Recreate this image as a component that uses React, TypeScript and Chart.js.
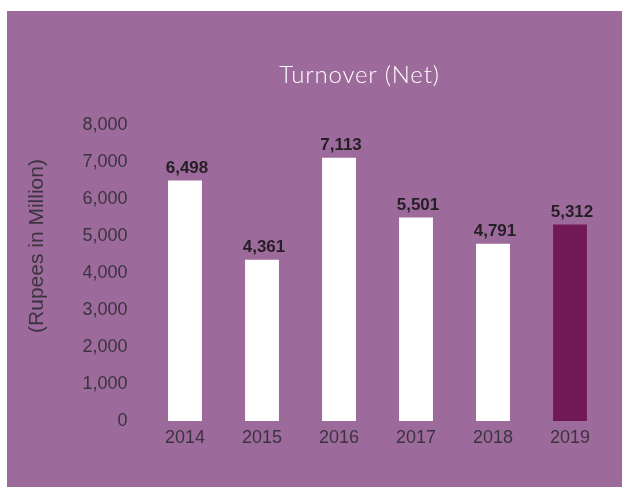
import React, { useEffect, useRef } from "react";
import { Chart, registerables } from "chart.js";

Chart.register(...registerables);

const categories = ["2014", "2015", "2016", "2017", "2018", "2019"];
const turnover = [6498, 4361, 7113, 5501, 4791, 5312];
const barColors = ["#ffffff", "#ffffff", "#ffffff", "#ffffff", "#ffffff", "#711955"];
const chartTitle = "Turnover (Net)";
const yAxisTitle = "(Rupees in Million)";

const BG = "#9d6b9b";
const TEXT = "#3b3340";

const overlayPlugin = {
  id: "overlay",
  afterDatasetsDraw(chart: any) {
    const { ctx, chartArea } = chart;
    const meta = chart.getDatasetMeta(0);
    ctx.save();
    ctx.font = "bold 17px 'Liberation Sans', Arial, sans-serif";
    ctx.fillStyle = "#241f24";
    ctx.textAlign = "center";
    ctx.textBaseline = "bottom";
    meta.data.forEach((bar: any, i: number) => {
      const v = chart.data.datasets[0].data[i] as number;
      ctx.fillText(v.toLocaleString("en-US"), bar.x + 2, bar.y - 4);
    });
    // chart title
    ctx.font = "300 24px Lato, 'Open Sans', sans-serif";
    try {
      (ctx as any).letterSpacing = "0.8px";
    } catch (e) {}
    ctx.fillStyle = "#ffffff";
    ctx.textBaseline = "middle";
    ctx.fillText(chartTitle, (chartArea.left + chartArea.right) / 2 - 18, chartArea.top - 50);
    try {
      (ctx as any).letterSpacing = "0px";
    } catch (e) {}
    // y axis title
    ctx.translate(30, (chartArea.top + chartArea.bottom) / 2 - 27);
    ctx.rotate(-Math.PI / 2);
    ctx.font = "21px 'Liberation Sans', Arial, sans-serif";
    ctx.fillStyle = TEXT;
    ctx.fillText(yAxisTitle, 0, 0);
    ctx.restore();
  },
};

export default function App() {
  const ref = useRef<HTMLCanvasElement | null>(null);
  useEffect(() => {
    if (!ref.current) return;
    const chart = new Chart(ref.current, {
      type: "bar",
      data: {
        labels: categories,
        datasets: [
          {
            data: turnover,
            backgroundColor: barColors,
            borderWidth: 0,
            barPercentage: 0.44,
            categoryPercentage: 1,
          },
        ],
      },
      options: {
        animation: false,
        responsive: false,
        locale: "en-US",
        layout: { padding: { top: 114, right: 13.5, bottom: 36, left: 0 } },
        plugins: { legend: { display: false }, tooltip: { enabled: false }, title: { display: false } },
        scales: {
          x: {
            grid: { display: false, drawTicks: false },
            border: { display: false },
            ticks: {
              color: TEXT,
              padding: 6,
              font: { family: "'Liberation Sans', Arial, sans-serif", size: 18 },
            },
            afterFit: (s: any) => {
              s.height = 30;
            },
          },
          y: {
            min: 0,
            max: 8000,
            grid: { display: false, drawTicks: false },
            border: { display: false },
            ticks: {
              stepSize: 1000,
              color: TEXT,
              padding: 19,
              font: { family: "'Liberation Sans', Arial, sans-serif", size: 18 },
            },
            afterFit: (s: any) => {
              s.width = 139.5;
            },
          },
        },
      },
      plugins: [overlayPlugin],
    });
    return () => chart.destroy();
  }, []);
  return (
    <div style={{ position: "absolute", left: 7, top: 11, width: 615, height: 476, background: BG }}>
      <canvas ref={ref} width={615} height={476} style={{ display: "block" }} />
    </div>
  );
}
